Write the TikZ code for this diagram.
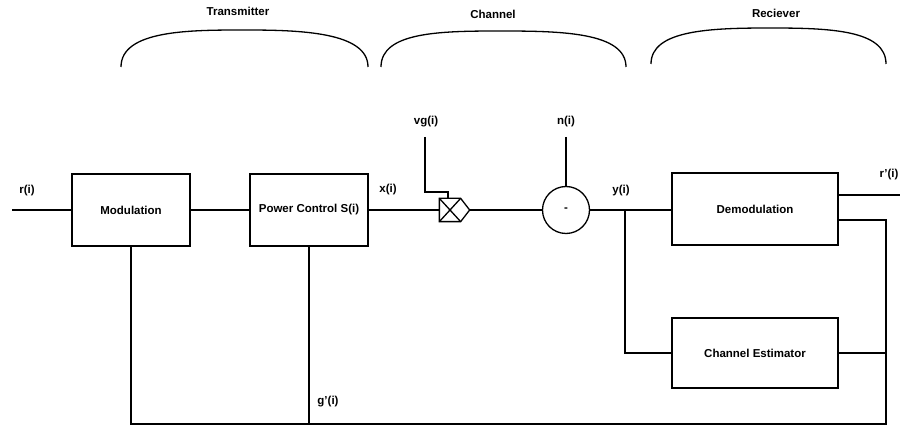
\documentclass[tikz,border=0pt]{standalone}
\usepackage{fontspec}
\setmainfont{Liberation Sans}
\begin{document}
\begin{tikzpicture}[x=1pt,y=-1pt,line width=1.3pt,
    every node/.style={font=\fontsize{11.5}{13}\selectfont\bfseries},
    block/.style={draw,rectangle,minimum width=118pt,minimum height=72pt,inner sep=0pt},
    rxblock/.style={block,minimum width=166pt},
    lbl/.style={inner sep=1pt}]
    \useasboundingbox (0,0) rectangle (900,427);
    % section titles and arcs
    \path (238,11) node (txname) {Transmitter};
    \path (493,14) node (chname) {Channel};
    \path (776,13) node (rxname) {Reciever};
    \draw (121,67) .. controls (121,30) and (190,30) .. (245,30) .. controls (300,30) and (368,32) .. (368,67);
    \draw (381,67) .. controls (381,32) and (440,31) .. (500,31) .. controls (560,31) and (626,32) .. (626,67);
    \draw (651,64) .. controls (651,30) and (710,28) .. (770,28) .. controls (830,28) and (886,30) .. (886,64);
    % transmitter
    \node[block] (mod) at (131,210) {Modulation};
    \node[block] (pc) at (309,210) {Power Control S(i)};
    \coordinate (rin) at (12,210);
    \draw (rin) -- (mod.west);
    \draw (mod.east) -- (pc.west);
    \path (27,191) node[lbl] (rlbl) {r(i)};
    \path (388,190) node[lbl] (xlbl) {x(i)};
    % channel
    \node[minimum width=29pt,minimum height=22pt,inner sep=0pt] (mult) at (454.5,210) {};
    \draw (mult.north west) -- ([xshift=-9pt]mult.north east) -- (mult.east) -- ([xshift=-9pt]mult.south east) -- (mult.south west) -- cycle;
    \draw (mult.north west) -- ([xshift=-9pt]mult.south east);
    \draw ([xshift=-9pt]mult.north east) -- (mult.south west);
    \node[draw,circle,minimum size=47pt,inner sep=0pt] (sum) at (566,210) {-};
    \draw (pc.east) -- (mult.west);
    \draw (mult.east) -- (sum.west);
    \coordinate (vgtop) at (425,137);
    \coordinate (vgbend) at (448,192);
    \draw (vgtop) |- (vgbend) -- (vgbend |- mult.north);
    \coordinate (ntop) at (566,137);
    \draw (ntop) -- (sum.north);
    \path (426,122) node[lbl] (vglbl) {vg(i)};
    \path (566,122) node[lbl] (nlbl) {n(i)};
    % receiver
    \node[rxblock] (demod) at (755,209) {Demodulation};
    \node[rxblock,minimum height=70pt] (est) at (755,353) {Channel Estimator};
    \draw (sum.east) -- (sum.east -| demod.west);
    \coordinate (split) at (625,210);
    \draw (split) |- (est.west);
    \path (621,191) node[lbl] (ylbl) {y(i)};
    \coordinate (rout) at (900,195);
    \draw (demod.east |- rout) -- (rout);
    \path (889,175) node[lbl] (routlbl) {r'(i)};
    % feedback
    \coordinate (fbtop) at (886,220);
    \coordinate (fbbot) at (886,424);
    \draw (demod.east |- fbtop) -- (fbtop) -- (fbbot) -| (mod.south);
    \draw (est.east) -- (est.east -| fbtop);
    \draw (pc.south) -- (pc.south |- fbbot);
    \path (328,402) node[lbl] (glbl) {g'(i)};
\end{tikzpicture}
\end{document}
